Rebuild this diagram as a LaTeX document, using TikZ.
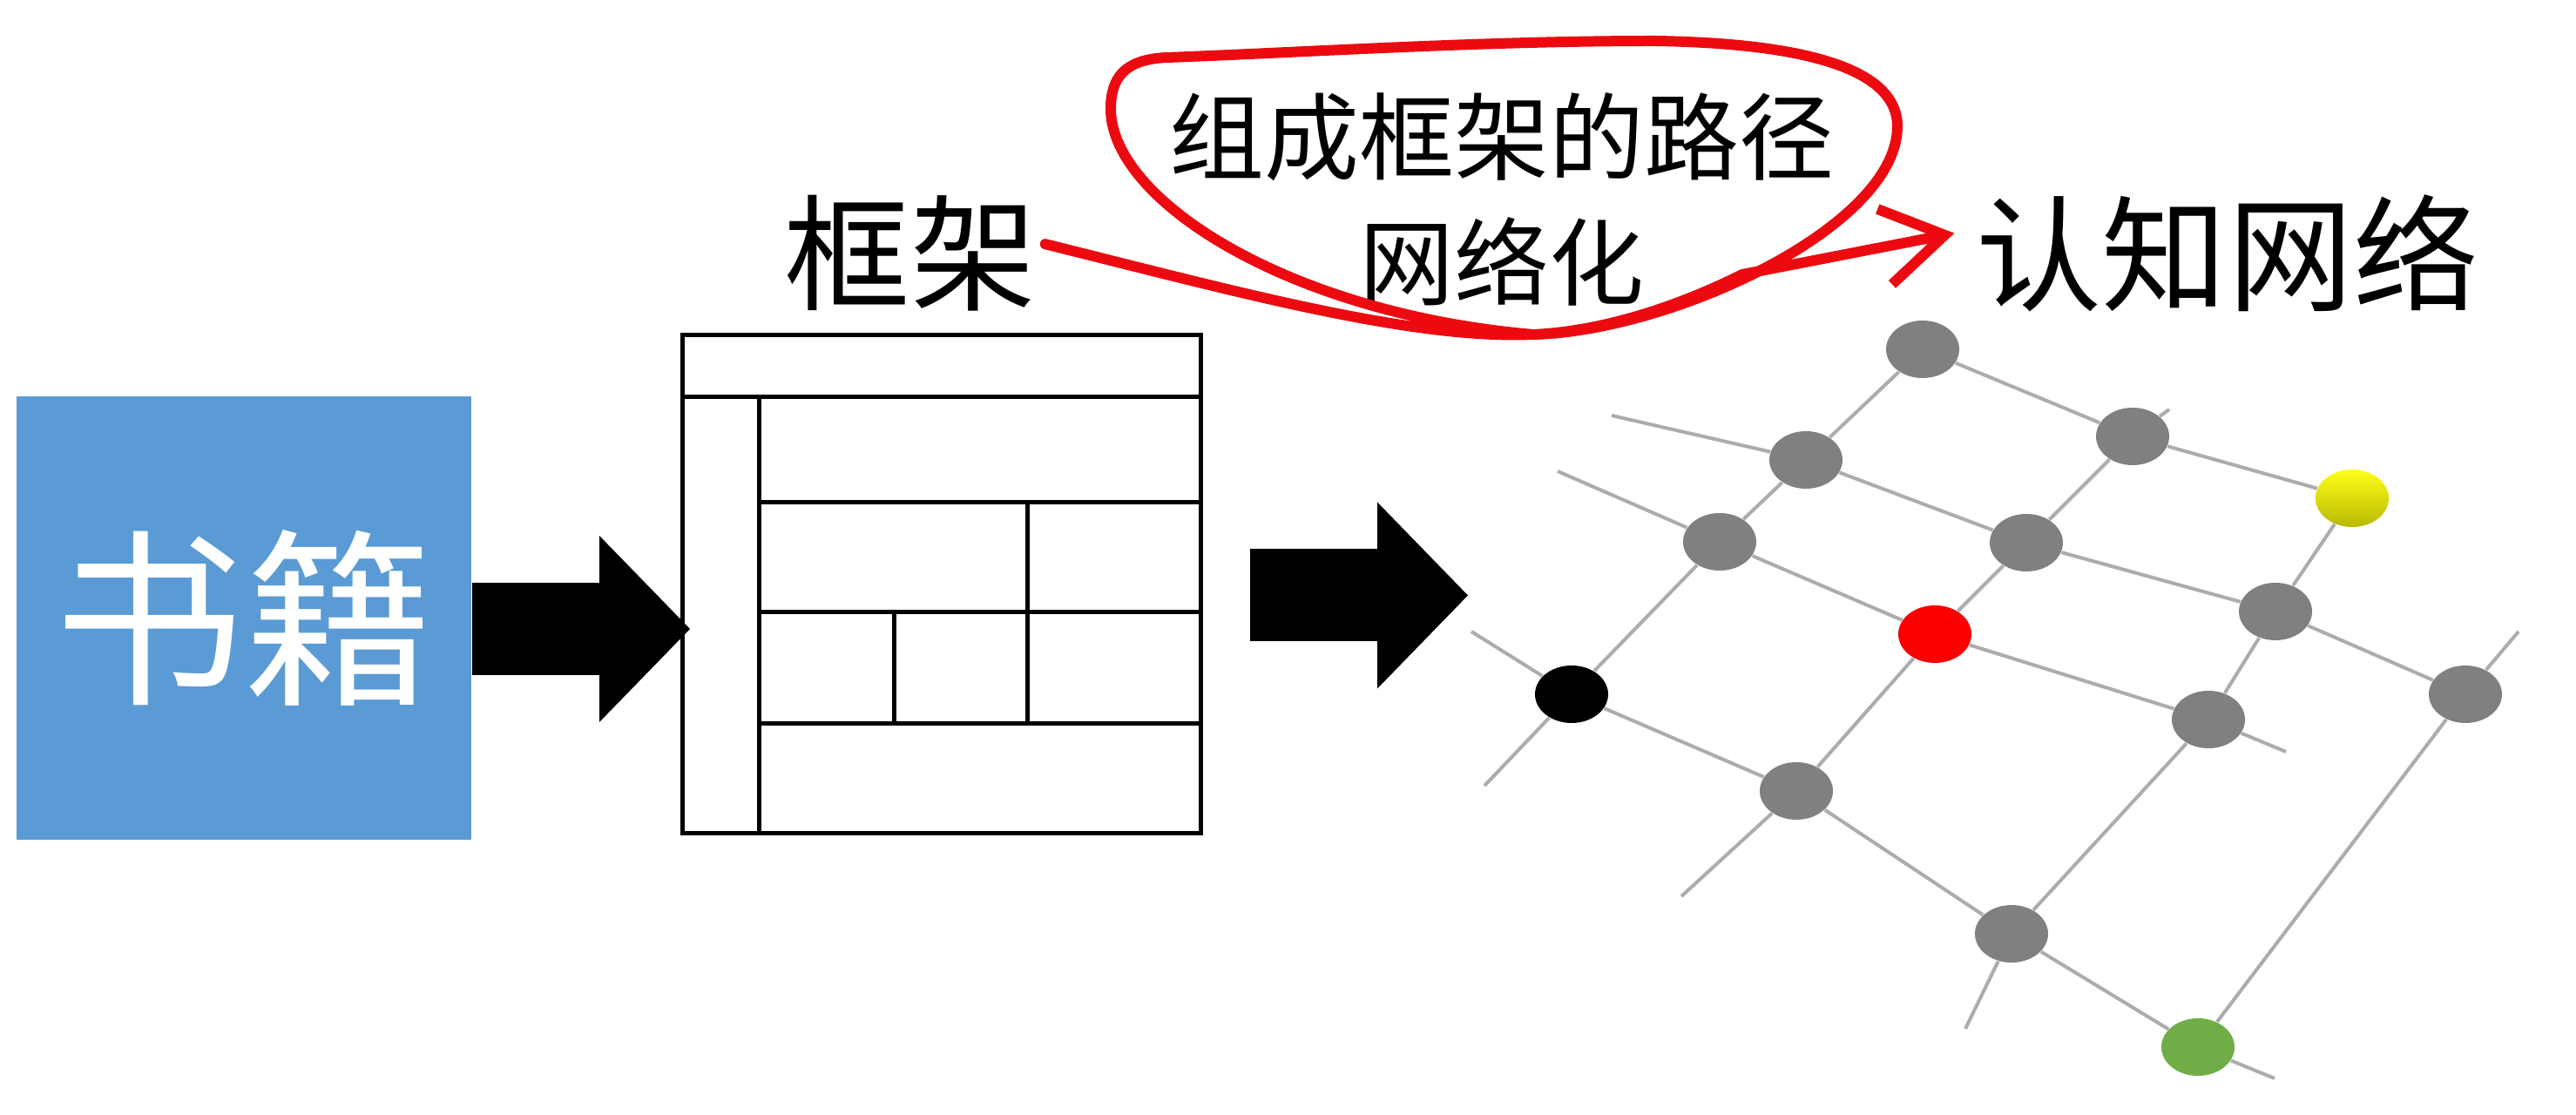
\documentclass[tikz,border=0pt]{standalone}
\usepackage{fontspec}
\newfontfamily\cjk{Noto Sans CJK SC}
\usepackage{tikz}
\usetikzlibrary{arrows.meta,positioning,shapes.geometric}
\definecolor{bookblue}{RGB}{91,155,213}
\definecolor{knotgrey}{RGB}{128,128,128}
\definecolor{linegrey}{RGB}{172,172,172}
\definecolor{penred}{RGB}{236,10,16}
\definecolor{knotred}{RGB}{250,0,0}
\definecolor{knotgreen}{RGB}{112,173,71}

\begin{document}
\begin{tikzpicture}[
	knot/.style={shape=ellipse, minimum width=0.84cm, minimum height=0.66cm, inner sep=0pt},
	gridline/.style={draw=linegrey, line width=0.04cm},
	fatarrow/.style={line width=1.06cm, -{Triangle[line width=0pt, length=1.04cm, width=2.14cm]}},
	penline/.style={draw=penred, line width=0.12cm, line cap=round, line join=round},
	cjklabel/.style={font=\cjk\fontsize{41}{41}\selectfont, inner sep=0.1cm}]
	\useasboundingbox (0,0) rectangle (29.57,-12.80);
	\fill[white] (0,0) rectangle (29.57,-12.80);

	% book and frame
	\node (book) [fill=bookblue, minimum width=5.22cm, minimum height=5.09cm, text=white,
		font=\cjk\fontsize{62}{62}\selectfont] at (2.80,-7.095) {书籍};
	\node (frame) [draw, line width=0.05cm, minimum width=5.95cm, minimum height=5.71cm] at (10.805,-6.705) {};
	\begin{scope}[line width=0.05cm]
		\draw (7.83,-4.56) -- (13.78,-4.56);
		\draw (8.71,-4.56) -- (8.71,-9.56);
		\draw (8.71,-5.77) -- (13.78,-5.77);
		\draw (8.71,-7.03) -- (13.78,-7.03);
		\draw (8.71,-8.31) -- (13.78,-8.31);
		\draw (11.79,-5.77) -- (11.79,-8.31);
		\draw (10.26,-7.03) -- (10.26,-8.31);
	\end{scope}
	\coordinate (t1) at (7.92,-7.22);
	\coordinate (t2) at (16.85,-6.835);
	\draw[fatarrow] (book.east |- t1) -- (t1);
	\draw[fatarrow, shorten <=0.54cm] (frame.east |- t2) -- (t2);

	% labels
	\node (kj) [cjklabel] at (10.45,-2.91) {框架};
	\node (rz) [cjklabel] at (25.57,-2.91) {认知网络};
	\node (lw) [align=center, font=\cjk\fontsize{31}{41}\selectfont] at (17.24,-2.29) {组成框架的路径\\网络化};
	\draw[penline, shorten >=0.15cm, -{Straight Barb[length=0.7cm, width=0.88cm]}] (kj.4)
		.. controls (14.2,-3.35) and (16.2,-3.9) .. (17.6,-3.84)
		.. controls (19.2,-3.8) and (21.78,-2.6) .. (21.78,-1.45)
		.. controls (21.78,-0.85) and (20.9,-0.5) .. (19.0,-0.47)
		.. controls (17.0,-0.47) and (15.0,-0.6) .. (13.4,-0.66)
		.. controls (12.9,-0.68) and (12.75,-0.9) .. (12.75,-1.25)
		.. controls (12.75,-2.3) and (14.8,-3.6) .. (17.6,-3.84)
		.. controls (18.5,-3.8) and (19.4,-3.45) .. (20.0,-3.15)
		-- (rz.175);

	% network
	\path (22.07,-4.01) node (1) [knot, fill=knotgrey] {}
		  (24.48,-5.01) node (2) [knot, fill=knotgrey] {}
		  (27.00,-5.72) node (3) [knot, top color=yellow!90!white, bottom color=yellow!72!black] {}
		  (20.73,-5.28) node (4) [knot, fill=knotgrey] {}
		  (23.26,-6.23) node (5) [knot, fill=knotgrey] {}
		  (26.12,-7.02) node (6) [knot, fill=knotgrey] {}
		  (28.30,-7.97) node (7) [knot, fill=knotgrey] {}
		  (19.74,-6.22) node (8) [knot, fill=knotgrey] {}
		  (22.21,-7.28) node (9) [knot, fill=knotred] {}
		  (25.35,-8.26) node (10) [knot, fill=knotgrey] {}
		  (18.04,-7.97) node (11) [knot, fill=black] {}
		  (20.62,-9.08) node (12) [knot, fill=knotgrey] {}
		  (23.09,-10.72) node (13) [knot, fill=knotgrey] {}
		  (25.23,-12.02) node (14) [knot, fill=knotgreen] {};
	\coordinate (rb) at (18.50,-4.77);
	\coordinate (rc) at (17.88,-5.41);
	\coordinate (rc') at (26.24,-8.63);
	\coordinate (rd) at (16.89,-7.25);
	\coordinate (rd') at (26.11,-12.38);
	\coordinate (c1) at (17.04,-9.02);
	\coordinate (c2) at (24.90,-4.70);
	\coordinate (c2') at (19.30,-10.29);
	\coordinate (c3) at (22.56,-11.81);
	\coordinate (c4) at (28.91,-7.25);
	\draw[gridline] (1) -- (2) -- (3);
	\draw[gridline] (rb) -- (4) -- (5) -- (6) -- (7);
	\draw[gridline] (rc) -- (8) -- (9) -- (10) -- (rc');
	\draw[gridline] (rd) -- (11) -- (12) -- (13) -- (14) -- (rd');
	\draw[gridline] (1) -- (4) -- (8) -- (11) -- (c1);
	\draw[gridline] (c2) -- (2) -- (5) -- (9) -- (12) -- (c2');
	\draw[gridline] (3) -- (6) -- (10) -- (13) -- (c3);
	\draw[gridline] (c4) -- (7) -- (14);
\end{tikzpicture}
\end{document}
